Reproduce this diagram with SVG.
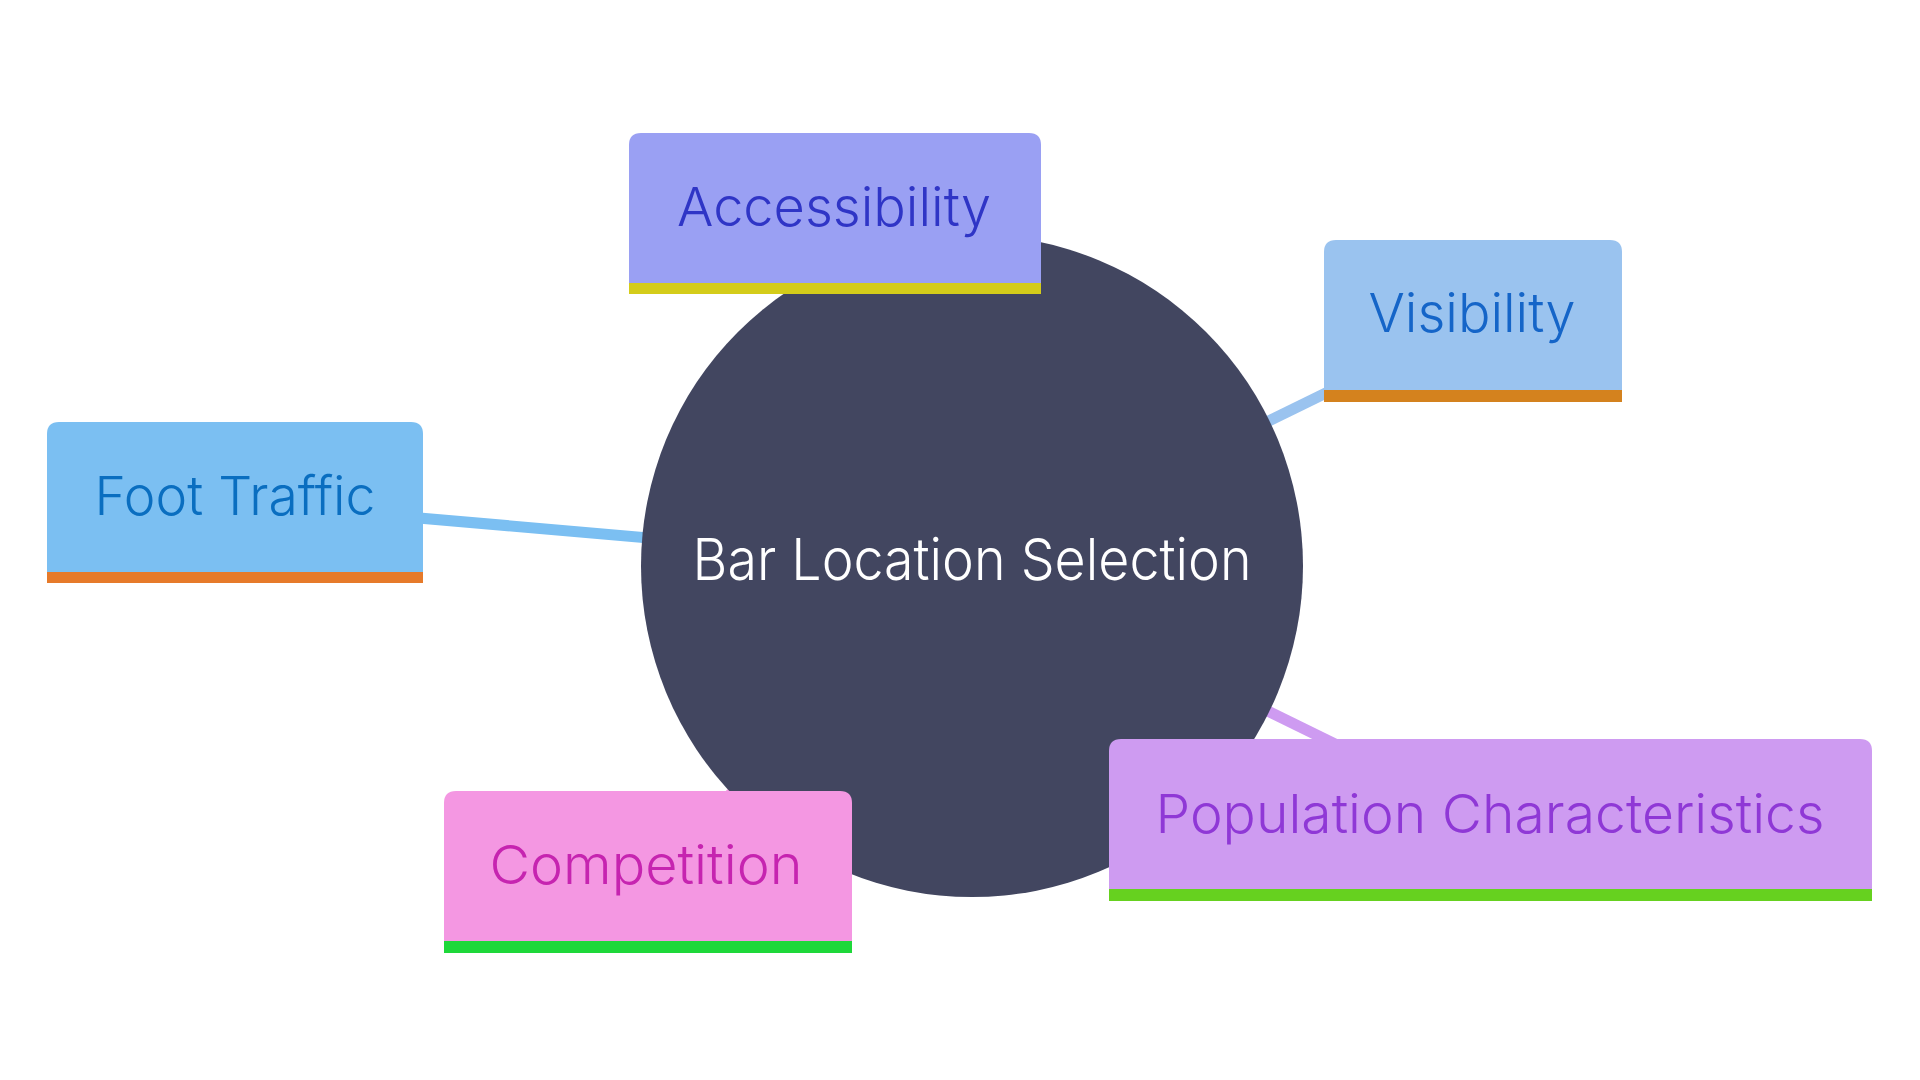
<svg xmlns="http://www.w3.org/2000/svg" width="1920" height="1080" viewBox="0 0 1920 1080">
<style>
  .lbl { font-family: Inter, "Noto Sans", "Liberation Sans", sans-serif; font-size: 54px; font-weight: 300; text-anchor: middle; }
  .root { font-family: Inter, "Noto Sans", "Liberation Sans", sans-serif; font-size: 58px; font-weight: 300; text-anchor: middle; fill: #ffffff; }
  .edge { stroke-width: 11; fill: none; }
</style>
<rect width="1920" height="1080" fill="#ffffff"/>
<g id="connectors">
  <line class="edge" x1="972" y1="566" x2="835" y2="213" stroke="#9aa0f3"/>
  <line class="edge" x1="972" y1="566" x2="1473" y2="321" stroke="#9ac3ef"/>
  <line class="edge" x1="972" y1="566" x2="235" y2="502" stroke="#7bbff2"/>
  <line class="edge" x1="972" y1="566" x2="648" y2="872" stroke="#f497e2"/>
  <line class="edge" x1="972" y1="566" x2="1490" y2="820" stroke="#ce9bf1"/>
</g>
<g id="root">
  <circle cx="972" cy="566" r="331" fill="#424660"/>
  <text class="root" x="972" y="580" textLength="559" lengthAdjust="spacingAndGlyphs">Bar Location Selection</text>
</g>
<g id="accessibility">
  <path d="M629,294 V145 Q629,133 641,133 H1029 Q1041,133 1041,145 V294 Z" fill="#9aa0f3"/>
  <rect x="629" y="283" width="412" height="11" fill="#d4cc1a"/>
  <text class="lbl" x="834" y="226" fill="#2f35c6" textLength="314" lengthAdjust="spacingAndGlyphs">Accessibility</text>
</g>
<g id="visibility">
  <path d="M1324,402 V252 Q1324,240 1336,240 H1610 Q1622,240 1622,252 V402 Z" fill="#9ac3ef"/>
  <rect x="1324" y="390" width="298" height="12" fill="#d4821e"/>
  <text class="lbl" x="1472" y="332" fill="#1565c8" textLength="207" lengthAdjust="spacingAndGlyphs">Visibility</text>
</g>
<g id="foot-traffic">
  <path d="M47,583 V434 Q47,422 59,422 H411 Q423,422 423,434 V583 Z" fill="#7bbff2"/>
  <rect x="47" y="572" width="376" height="11" fill="#e67a2a"/>
  <text class="lbl" x="235" y="515" fill="#0a6ec0" textLength="281" lengthAdjust="spacingAndGlyphs">Foot Traffic</text>
</g>
<g id="competition">
  <path d="M444,953 V803 Q444,791 456,791 H840 Q852,791 852,803 V953 Z" fill="#f497e2"/>
  <rect x="444" y="941" width="408" height="12" fill="#1ed83a"/>
  <text class="lbl" x="646" y="884" fill="#c624b0" textLength="313" lengthAdjust="spacingAndGlyphs">Competition</text>
</g>
<g id="population">
  <path d="M1109,901 V751 Q1109,739 1121,739 H1860 Q1872,739 1872,751 V901 Z" fill="#ce9bf1"/>
  <rect x="1109" y="889" width="763" height="12" fill="#66d11f"/>
  <text class="lbl" x="1490" y="833" fill="#8f38d6" textLength="669" lengthAdjust="spacingAndGlyphs">Population Characteristics</text>
</g>
</svg>
